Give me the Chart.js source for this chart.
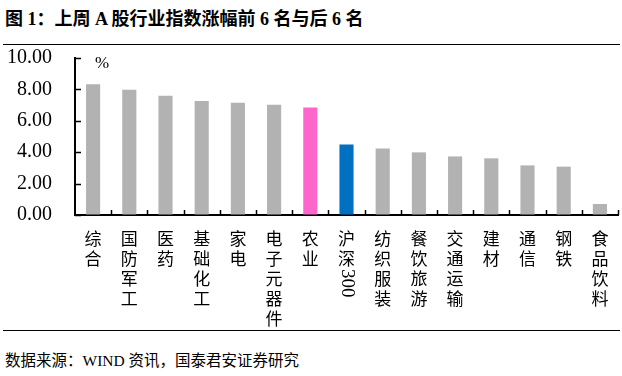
<!DOCTYPE html>
<html>
<head>
<meta charset="utf-8">
<script src="https://cdn.jsdelivr.net/npm/chart.js@4/dist/chart.umd.min.js"></script>
<style>
  html, body { margin: 0; padding: 0; background: #fff; width: 622px; height: 376px; overflow: hidden; }
  #title { position: absolute; left: 5px; top: 4px; font: bold 18px "Liberation Serif", "Noto Sans CJK SC", serif; color: #000; white-space: nowrap; }
  .rule { position: absolute; left: 3px; width: 617px; height: 0; border-top: 1.5px solid #000; }
  #footer { position: absolute; left: 5px; top: 348px; font: 15.5px "Liberation Serif", "Noto Sans CJK SC", serif; color: #000; white-space: nowrap; }
  #wrap { position: absolute; left: 0; top: 45px; width: 622px; height: 286px; }
</style>
</head>
<body>
<div id="title">图 1：上周 A 股行业指数涨幅前 6 名与后 6 名</div>
<div class="rule" style="top:44px"></div>
<div id="wrap"><canvas id="c" width="622" height="286"></canvas></div>
<div class="rule" style="top:330px"></div>
<div id="footer">数据来源：WIND 资讯，国泰君安证券研究</div>
<script>
const categories = ['综合','国防军工','医药','基础化工','家电','电子元器件','农业','沪深300','纺织服装','餐饮旅游','交通运输','建材','通信','钢铁','食品饮料'];
const values = [8.33, 7.97, 7.59, 7.26, 7.15, 7.03, 6.84, 4.49, 4.24, 3.99, 3.73, 3.61, 3.16, 3.08, 0.70];
const barColors = ['#B2B2B2','#B2B2B2','#B2B2B2','#B2B2B2','#B2B2B2','#B2B2B2','#FF66CC','#0070C0','#B2B2B2','#B2B2B2','#B2B2B2','#B2B2B2','#B2B2B2','#B2B2B2','#B2B2B2'];
const yTicks = [0, 2, 4, 6, 8, 10];
const unitLabel = '%';

const decorPlugin = {
  id: 'decor',
  afterDraw(chart) {
    const ctx = chart.ctx;
    const xs = chart.scales.x, ys = chart.scales.y;
    ctx.save();
    ctx.strokeStyle = '#000';
    ctx.lineWidth = 1.5;
    const n = categories.length;
    const step = (xs.right - xs.left) / n;
    for (let i = 1; i <= n; i++) {
      const x = Math.round(xs.left + i * step) + 0.5;
      ctx.beginPath(); ctx.moveTo(x, ys.bottom); ctx.lineTo(x, ys.bottom - 5); ctx.stroke();
    }
    yTicks.forEach(v => {
      const y = Math.round(ys.getPixelForValue(v)) + 0.5;
      ctx.beginPath(); ctx.moveTo(xs.left, y); ctx.lineTo(xs.left + 6, y); ctx.stroke();
    });
    ctx.fillStyle = '#000';
    ctx.font = '17px "Liberation Serif", serif';
    ctx.textAlign = 'center'; ctx.textBaseline = 'middle';
    ctx.fillText(unitLabel, xs.left + 27, ys.getPixelForValue(10) + 6);
    categories.forEach((lab, i) => {
      const x = xs.getPixelForValue(i);
      let y = ys.bottom + 24;
      const segs = lab.match(/[A-Za-z0-9]+|./g);
      segs.forEach(s => {
        if (/^[A-Za-z0-9]+$/.test(s)) {
          ctx.font = '19px "Liberation Serif", serif';
          const w = ctx.measureText(s).width;
          ctx.save();
          ctx.translate(x, y - 10);
          ctx.rotate(Math.PI / 2);
          ctx.textAlign = 'left'; ctx.textBaseline = 'middle';
          ctx.fillText(s, 0, 0);
          ctx.restore();
          y += w + 10;
        } else {
          ctx.font = '17px "Noto Sans CJK SC", sans-serif';
          ctx.textAlign = 'center'; ctx.textBaseline = 'middle';
          ctx.fillText(s, x, y);
          y += 20;
        }
      });
    });
    ctx.restore();
  }
};

new Chart(document.getElementById('c'), {
  type: 'bar',
  data: {
    labels: categories,
    datasets: [{ data: values, backgroundColor: barColors, borderWidth: 0, categoryPercentage: 1, barPercentage: 0.39 }]
  },
  options: {
    responsive: false,
    devicePixelRatio: 1,
    animation: false,
    layout: { padding: { top: 13, right: 4, left: 0, bottom: 0 } },
    plugins: { legend: { display: false }, tooltip: { enabled: false } },
    scales: {
      x: {
        grid: { display: true, drawOnChartArea: false, drawTicks: false },
        border: { display: true, color: '#000', width: 2 },
        ticks: { display: true, callback: () => '' },
        afterFit(s) { s.height = 116; s.paddingLeft = 0; s.paddingRight = 0; s.paddingTop = 0; s.paddingBottom = 0; }
      },
      y: {
        min: 0, max: 10,
        afterBuildTicks(s) { s.ticks = yTicks.map(v => ({ value: v })); },
        grid: { display: true, drawOnChartArea: false, drawTicks: false },
        border: { display: true, color: '#000', width: 2 },
        ticks: { color: '#000', font: { family: '"Liberation Serif", serif', size: 20 }, padding: 23, callback: v => Number(v).toFixed(2) },
        afterFit(s) { s.width = 75; s.paddingTop = 0; s.paddingBottom = 0; s.paddingLeft = 0; s.paddingRight = 0; }
      }
    }
  },
  plugins: [decorPlugin]
});
</script>
</body>
</html>
